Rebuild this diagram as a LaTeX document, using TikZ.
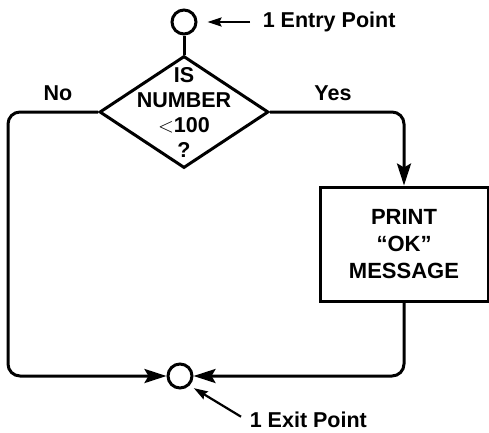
\documentclass[tikz,border=0pt]{standalone}
\usepackage{fontspec}
\setmainfont{Liberation Sans}
\usetikzlibrary{arrows.meta,shapes.geometric}

\begin{document}
\begin{tikzpicture}[x=1pt, y=-1pt, line width=3pt,
    every node/.style = {font=\bfseries\fontsize{21.5}{25}\selectfont},
    point/.style = {circle, draw, minimum size=24pt, inner sep=0pt},
    flow/.style = {-{Stealth[length=22pt,width=14pt,inset=4pt]}, rounded corners=12pt},
    note/.style = {-{Stealth[length=14pt,width=9pt,inset=2pt]}, line width=2.2pt}]
\useasboundingbox (0,0) rectangle (489,432);
\node[point] (entry) at (184,22) {};
\node[diamond, draw, minimum width=169pt, minimum height=112pt, inner sep=0pt] (test) at (184,112) {};
\node[align=center] (question) at (test) {IS\\NUMBER\\$<$100\\?};
\node[draw, minimum width=168pt, minimum height=114pt, align=center,
    font=\bfseries\fontsize{22}{27}\selectfont] (print) at (404,244) {PRINT\\``OK''\\MESSAGE};
\node[point] (exit) at (180,376) {};
\coordinate (leftbend) at (8,376);
\node (no) at (58,93) {No};
\node (yes) at (333,93) {Yes};
\node[anchor=west, font=\bfseries\fontsize{21.5}{25}\selectfont] (entrytext) at (258,22) {1 Entry Point};
\node[anchor=west, font=\bfseries\fontsize{21.5}{25}\selectfont] (exittext) at (245,420) {1 Exit Point};
% connectors
\draw (entry) -- (test.north);
\draw[flow] (test.east) -| (print.north);
\draw[flow] (print.south) |- (exit.east);
\draw[flow] (test.west) -| (leftbend) -- (exit.west);
\draw[note, shorten <=8pt, shorten >=10pt] (entrytext.west) -- (entry.east);
\draw[note, shorten >=5pt] ([shift={(-4,-11)}]exittext.base west) -- (exit.south east);
\end{tikzpicture}
\end{document}
